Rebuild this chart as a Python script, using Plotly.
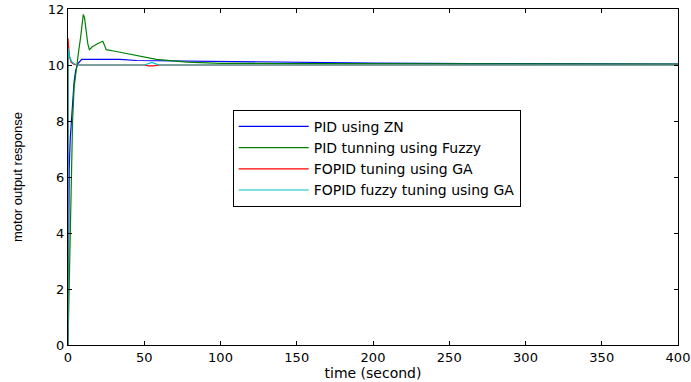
import plotly.graph_objects as go

# ---- data ----
t_zn = [0, 0.3, 0.8, 1.5, 2.2, 3, 4, 5, 6.5, 9, 20, 34, 45, 60, 87, 100, 146, 200, 265, 400]
y_zn = [0, 4.0, 6.3, 7.4, 8.0, 8.8, 9.4, 9.8, 10.05, 10.2, 10.2, 10.2, 10.16, 10.15, 10.14, 10.12, 10.1, 10.07, 10.05, 10.03]

t_fz = [0, 1, 2, 3, 4, 5, 6, 7, 8.3, 9.3, 10, 10.8, 12, 13, 14, 16, 19, 21, 22.8, 24, 25, 30, 43, 58, 78, 100, 150, 265, 400]
y_fz = [0, 3.0, 5.5, 8.0, 9.2, 9.7, 10.0, 10.5, 11.0, 11.6, 11.8, 11.7, 11.1, 10.75, 10.55, 10.65, 10.75, 10.8, 10.85, 10.7, 10.55, 10.5, 10.35, 10.2, 10.1, 10.06, 10.05, 10.04, 10.03]

t_ga = [0, 0.05, 0.3, 1, 2, 4, 6, 50, 53, 56, 60, 100, 200, 400]
y_ga = [0, 10.95, 10.7, 10.3, 10.1, 10.02, 10.0, 10.0, 9.97, 9.97, 10.0, 10.0, 10.0, 10.0]

t_fga = [0, 0.1, 0.5, 1, 2.4, 4, 5.7, 50, 53, 55, 57, 60, 100, 200, 400]
y_fga = [0, 10.6, 10.5, 10.3, 10.12, 10.05, 10.0, 10.0, 10.05, 10.09, 10.05, 10.0, 10.0, 10.0, 10.0]

names = ["PID using ZN", "PID tunning using Fuzzy", "FOPID tuning using GA", "FOPID fuzzy tuning using GA"]
colors = ["#0000FF", "#008000", "#FF0000", "#00BFBF"]

x_ticks = [0, 50, 100, 150, 200, 250, 300, 350, 400]
y_ticks = [0, 2, 4, 6, 8, 10, 12]

fig = go.Figure()
for t, y, n, c in zip([t_zn, t_fz, t_ga, t_fga], [y_zn, y_fz, y_ga, y_fga], names, colors):
    fig.add_trace(go.Scatter(x=t, y=y, mode="lines", name=n,
                             line=dict(color=c, width=1.2)))

wide = "DejaVu Sans, Arial, sans-serif"
narrow = "Liberation Sans, Arial, sans-serif"
fig.update_layout(
    width=691, height=382,
    margin=dict(l=68, r=13, t=9, b=37),
    paper_bgcolor="white", plot_bgcolor="white",
    font=dict(family=wide, size=13, color="black"),
    showlegend=True,
    legend=dict(x=0.27, y=0.70, xanchor="left", yanchor="top",
                bgcolor="white", bordercolor="black", borderwidth=1,
                font=dict(size=14, family=wide), itemwidth=70,
                tracegroupgap=0),
    xaxis=dict(range=[0, 400], tickvals=x_ticks, showgrid=False, zeroline=False,
               showline=True, linecolor="black", linewidth=1, mirror="ticks",
               ticks="inside", ticklen=4, tickcolor="black", automargin=False,
               tickfont=dict(size=13),
               title=dict(text="time (second)", font=dict(size=14, family=wide), standoff=0)),
    yaxis=dict(range=[0, 12], tickvals=y_ticks, showgrid=False, zeroline=False,
               showline=True, linecolor="black", linewidth=1, mirror="ticks",
               ticks="inside", ticklen=4, tickcolor="black", automargin=False,
               tickfont=dict(size=13),
               title=dict(text="motor output response", font=dict(size=13, family=narrow), standoff=22)),
)

fig.write_html("out.html")
